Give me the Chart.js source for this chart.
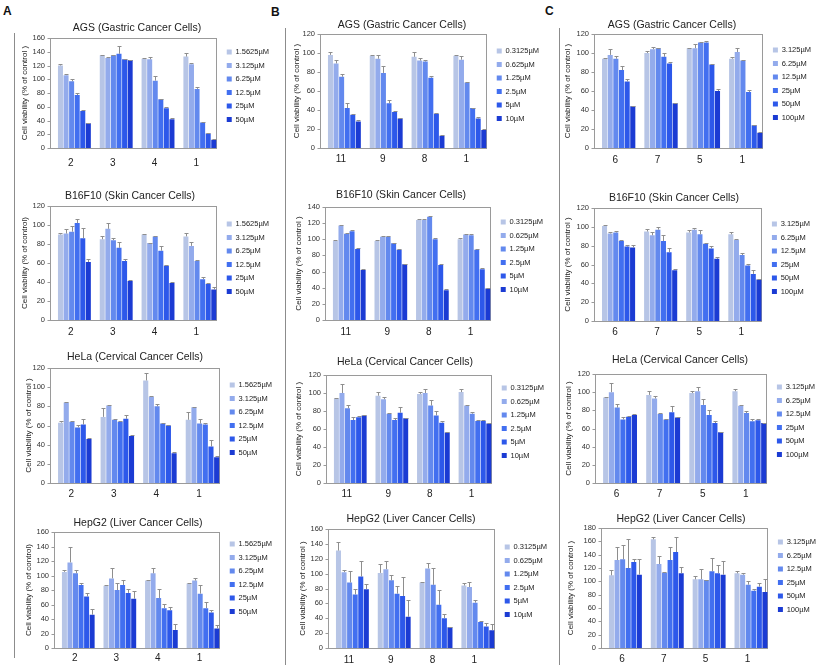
<!DOCTYPE html>
<html>
<head>
<meta charset="utf-8">
<script src="https://cdn.jsdelivr.net/npm/chart.js@4.4.1/dist/chart.umd.min.js"></script>
<style>
  html, body { margin: 0; padding: 0; background: #fff; width: 817px; height: 669px; overflow: hidden; position: relative; font-family: 'Liberation Sans', Arial, sans-serif; }
  canvas { position: absolute; }
  .tag { position: absolute; font-weight: bold; font-size: 12px; color: #111; }
  .sep { position: absolute; width: 1px; background: #8c8c8c; }
</style>
</head>
<body>
<div class="sep" style="left:14px;top:33px;height:625px"></div>
<div class="sep" style="left:285px;top:28px;height:637px"></div>
<div class="sep" style="left:559px;top:28px;height:637px"></div>
<div class="tag" style="left:3px;top:4px">A</div>
<div class="tag" style="left:271px;top:5px">B</div>
<div class="tag" style="left:545px;top:4px">C</div>

<script>
// ==========================================
// データ
// ==========================================

const concA = ['1.5625µM', '3.125µM', '6.25µM', '12.5µM', '25µM', '50µM'];
const concB = ['0.3125µM', '0.625µM', '1.25µM', '2.5µM', '5µM', '10µM'];
const concC = ['3.125µM', '6.25µM', '12.5µM', '25µM', '50µM', '100µM'];

const compA = ['2', '3', '4', '1'];
const compB = ['11', '9', '8', '1'];
const compC = ['6', '7', '5', '1'];

const cellLines = ['AGS (Gastric Cancer Cells)', 'B16F10 (Skin Cancer Cells)', 'HeLa (Cervical Cancer Cells)', 'HepG2 (Liver Cancer Cells)'];
const yTitle1 = 'Cell viability (% of control )';
const yTitle2 = 'Cell viability (% of control)';

const yMaxA = [160, 120, 120, 160];
const yMaxB = [120, 140, 120, 160];
const yMaxC = [120, 120, 120, 180];

// 各行 = 化合物, 各列 = 濃度
const agsA = [[120, 106, 97, 77, 54, 36], [135, 131, 135, 137, 129, 128], [130, 129, 98, 71, 58, 42], [133, 122, 86, 37, 21, 12]];
const agsA_err = [[2, 1, 4, 3, 2, 0.5], [1, 1, 0.5, 11, 0.5, 0.5], [1, 3, 7, 1, 1, 1], [5, 2, 3, 1, 0.5, 1]];
const b16A = [[90, 91, 93, 102, 86, 61], [85, 96, 84, 76, 62, 41], [90, 81, 88, 73, 57, 39], [88, 78, 62, 43, 38, 32]];
const b16A_err = [[2, 5, 6, 4, 11, 3], [3, 6, 2, 6, 2, 1], [1, 0.5, 0.5, 5, 0.5, 1], [4, 4, 1, 2, 0.5, 3]];
const helaA = [[63, 84, 64, 58, 61, 46], [69, 81, 66, 64, 67, 49], [107, 90, 80, 62, 60, 31], [66, 79, 62, 61, 38, 27]];
const helaA_err = [[2, 0.5, 0.5, 3, 6, 1], [9, 0.5, 0.5, 0.5, 4, 1], [8, 0.5, 2, 0.5, 0.5, 1], [8, 0.5, 5, 2, 7, 1]];
const hepA = [[105, 118, 103, 87, 71, 46], [86, 96, 80, 87, 76, 68], [93, 103, 69, 55, 52, 25], [89, 93, 75, 55, 49, 27]];
const hepA_err = [[2, 22, 4, 3, 5, 8], [1, 15, 9, 7, 6, 11], [1, 7, 12, 6, 5, 8], [1, 4, 12, 9, 3, 5]];

const agsB = [[98, 89, 75, 42, 35, 28], [97, 94, 79, 47, 38, 31], [96, 92, 91, 74, 36, 13], [97, 93, 69, 42, 31, 19]];
const agsB_err = [[3, 4, 3, 5, 1, 1], [0.5, 4, 7, 3, 0.5, 0.5], [5, 3, 2, 2, 1, 0.5], [1, 4, 0.5, 0.5, 2, 0.5]];
const b16B = [[98, 117, 107, 110, 88, 62], [98, 103, 103, 95, 87, 69], [124, 124, 128, 100, 68, 37], [100, 106, 105, 87, 63, 39]];
const b16B_err = [[1, 1, 1, 1, 1, 1], [1, 1, 1, 1, 1, 1], [1, 1, 1, 1, 1, 1], [1, 1, 1, 1, 1, 1]];
const helaB = [[94, 100, 83, 70, 73, 75], [97, 93, 77, 70, 78, 72], [99, 100, 86, 75, 67, 56], [101, 86, 77, 69, 69, 66]];
const helaB_err = [[1, 10, 4, 3, 1, 0.5], [4, 3, 0.5, 2, 7, 0.5], [2, 5, 6, 5, 2, 0.5], [3, 0.5, 2, 1, 0.5, 0.5]];
const hepB = [[131, 102, 88, 72, 96, 79], [101, 106, 91, 73, 70, 42], [88, 107, 85, 58, 40, 28], [84, 82, 61, 35, 29, 24]];
const hepB_err = [[12, 3, 16, 7, 21, 7], [12, 11, 7, 11, 25, 23], [0.5, 7, 23, 20, 6, 0.5], [4, 7, 4, 1, 4, 8]];

const agsC = [[94, 98, 94, 82, 70, 44], [100, 104, 105, 96, 89, 47], [105, 105, 111, 111, 88, 60], [94, 101, 92, 59, 24, 16]];
const agsC_err = [[0.5, 6, 3, 4, 3, 0.5], [2, 2, 0.5, 4, 2, 0.5], [0.5, 5, 1, 2, 0.5, 2], [2, 4, 0.5, 2, 0.5, 0.5]];
const b16C = [[101, 93, 94, 85, 79, 78], [95, 91, 97, 85, 73, 54], [94, 97, 92, 82, 77, 66], [92, 86, 70, 59, 50, 44]];
const b16C_err = [[0.5, 1, 2, 0.5, 2, 3], [3, 4, 3, 6, 5, 1], [3, 2, 5, 1, 3, 2], [3, 1, 2, 2, 4, 1]];
const helaC = [[94, 100, 83, 70, 73, 75], [97, 93, 76, 70, 78, 72], [99, 101, 86, 75, 66, 56], [101, 85, 77, 68, 69, 66]];
const helaC_err = [[0.5, 10, 4, 3, 0.5, 0.5], [4, 3, 1, 1, 7, 0.5], [2, 5, 6, 5, 2, 0.5], [3, 0.5, 2, 2, 1, 0.5]];
const hepC = [[109, 132, 133, 120, 129, 110], [163, 126, 113, 132, 144, 112], [103, 103, 102, 115, 112, 110], [112, 110, 95, 86, 92, 84]];
const hepC_err = [[8, 20, 21, 43, 4, 23], [3, 12, 0.5, 19, 22, 9], [5, 16, 0.5, 20, 12, 20], [4, 3, 6, 3, 5, 19]];

// ==========================================
// パネル構成（データの対応）
// ==========================================

const panels = [
  { vals: agsA, errs: agsA_err, conc: concA, comp: compA, ymax: yMaxA[0], title: cellLines[0], ytitle: yTitle1 },
  { vals: b16A, errs: b16A_err, conc: concA, comp: compA, ymax: yMaxA[1], title: cellLines[1], ytitle: yTitle2 },
  { vals: helaA, errs: helaA_err, conc: concA, comp: compA, ymax: yMaxA[2], title: cellLines[2], ytitle: yTitle1 },
  { vals: hepA, errs: hepA_err, conc: concA, comp: compA, ymax: yMaxA[3], title: cellLines[3], ytitle: yTitle2 },
  { vals: agsB, errs: agsB_err, conc: concB, comp: compB, ymax: yMaxB[0], title: cellLines[0], ytitle: yTitle1 },
  { vals: b16B, errs: b16B_err, conc: concB, comp: compB, ymax: yMaxB[1], title: cellLines[1], ytitle: yTitle1 },
  { vals: helaB, errs: helaB_err, conc: concB, comp: compB, ymax: yMaxB[2], title: cellLines[2], ytitle: yTitle1 },
  { vals: hepB, errs: hepB_err, conc: concB, comp: compB, ymax: yMaxB[3], title: cellLines[3], ytitle: yTitle1 },
  { vals: agsC, errs: agsC_err, conc: concC, comp: compC, ymax: yMaxC[0], title: cellLines[0], ytitle: yTitle1 },
  { vals: b16C, errs: b16C_err, conc: concC, comp: compC, ymax: yMaxC[1], title: cellLines[1], ytitle: yTitle1 },
  { vals: helaC, errs: helaC_err, conc: concC, comp: compC, ymax: yMaxC[2], title: cellLines[2], ytitle: yTitle1 },
  { vals: hepC, errs: hepC_err, conc: concC, comp: compC, ymax: yMaxC[3], title: cellLines[3], ytitle: yTitle1 }
];

// ==========================================
// レイアウト（ページ座標）
// ty: タイトル中心, pt/pb/pl/pr: プロット枠, xl: x ラベル中心,
// fy: 凡例1行目中心, ytx: y軸タイトル中心, tcx: タイトル中心x
// ==========================================

const frames = [
  { ty: 28,  pt: 38,  pb: 148, xl: 163, pl: 50,  pr: 217, fy: 52,  ytx: 25,  tcx: 137 },
  { ty: 196, pt: 206, pb: 320, xl: 332, pl: 50,  pr: 217, fy: 224, ytx: 25,  tcx: 130 },
  { ty: 357, pt: 368, pb: 483, xl: 494, pl: 50,  pr: 220, fy: 385, ytx: 29,  tcx: 135 },
  { ty: 523, pt: 532, pb: 648, xl: 658, pl: 54,  pr: 220, fy: 544, ytx: 29,  tcx: 138 },
  { ty: 25,  pt: 34,  pb: 148, xl: 159, pl: 320, pr: 487, fy: 51,  ytx: 297, tcx: 402 },
  { ty: 195, pt: 207, pb: 320, xl: 332, pl: 325, pr: 491, fy: 222, ytx: 299, tcx: 401 },
  { ty: 362, pt: 375, pb: 483, xl: 494, pl: 326, pr: 492, fy: 388, ytx: 299, tcx: 405 },
  { ty: 519, pt: 529, pb: 648, xl: 660, pl: 328, pr: 495, fy: 547, ytx: 303, tcx: 411 },
  { ty: 25,  pt: 34,  pb: 148, xl: 160, pl: 594, pr: 763, fy: 50,  ytx: 568, tcx: 672 },
  { ty: 198, pt: 208, pb: 321, xl: 332, pl: 594, pr: 762, fy: 224, ytx: 568, tcx: 674 },
  { ty: 360, pt: 374, pb: 483, xl: 494, pl: 595, pr: 767, fy: 387, ytx: 569, tcx: 680 },
  { ty: 519, pt: 528, pb: 648, xl: 659, pl: 601, pr: 768, fy: 542, ytx: 571, tcx: 681 }
];

const FONT = "'Liberation Sans', Arial, sans-serif";
const shades = ['#b7c5e6', '#93abec', '#6389ee', '#426ff0', '#2d58ea', '#1b3bd3'];
const SHIFT = 3.5;  // 棒グループは枠より少し右寄り

Chart.defaults.font.family = FONT;
Chart.defaults.color = '#222';

// 枠線・目盛り線・エラーバー
const decor = {
  id: 'decor',
  beforeDatasetsDraw(chart) {
    const { ctx, chartArea: a } = chart;
    const y = chart.scales.y;
    const left = Math.round(a.left - SHIFT) + 0.5;
    const right = Math.round(a.right - SHIFT) - 0.5;
    ctx.save();
    ctx.strokeStyle = '#9a9a9a';
    ctx.lineWidth = 1;
    ctx.strokeRect(left, Math.round(a.top) + 0.5, right - left, Math.round(a.bottom - a.top));
    ctx.beginPath();
    y.ticks.forEach(t => {
      const py = Math.round(y.getPixelForValue(t.value)) + 0.5;
      ctx.moveTo(left - 3, py);
      ctx.lineTo(left, py);
    });
    ctx.stroke();
    ctx.restore();
  },
  afterDatasetsDraw(chart) {
    const { ctx } = chart;
    const y = chart.scales.y;
    ctx.save();
    ctx.strokeStyle = '#8e8e8e';
    ctx.lineWidth = 1;
    chart.data.datasets.forEach((ds, j) => {
      chart.getDatasetMeta(j).data.forEach((bar, i) => {
        const top = Math.round(y.getPixelForValue(ds.data[i] + ds.errors[i])) + 0.5;
        const x = Math.round(bar.x) + 0.5;
        ctx.beginPath();
        ctx.moveTo(x, bar.y);
        ctx.lineTo(x, top);
        ctx.moveTo(x - 2, top);
        ctx.lineTo(x + 2, top);
        ctx.stroke();
      });
    });
    ctx.restore();
  }
};

const meas = document.createElement('canvas').getContext('2d');
meas.font = "7.5px " + FONT;

frames.forEach((f, k) => {
  const p = panels[k];
  const legW = 6 + 5 + 3.75 + Math.max(...p.conc.map(t => meas.measureText(t).width)) + 10;
  const R = f.pr + SHIFT + legW;
  const L = Math.round(2 * f.tcx - R);
  const W = Math.round(R - L);
  const T = Math.round(f.ty - 6.3);
  const xPad = f.xl - f.pb - 6;
  const H = Math.round(f.pb + xPad + 14 - T);

  const cv = document.createElement('canvas');
  cv.width = W;
  cv.height = H;
  cv.style.left = L + 'px';
  cv.style.top = T + 'px';
  document.body.appendChild(cv);

  new Chart(cv, {
    type: 'bar',
    data: {
      labels: p.comp,
      datasets: p.conc.map((c, j) => ({
        label: c,
        data: p.vals.map(g => g[j]),
        errors: p.errs.map(g => g[j]),
        backgroundColor: shades[j],
        borderWidth: 0
      }))
    },
    options: {
      responsive: false,
      animation: false,
      events: [],
      layout: { padding: 0 },
      plugins: {
        tooltip: { enabled: false },
        title: {
          display: true,
          text: p.title,
          font: { size: 10.5, weight: 'normal' },
          color: '#222',
          padding: { top: 0, bottom: f.pt - T - 12.6 }
        },
        legend: {
          position: 'right',
          align: 'start',
          fullSize: false,
          title: { display: true, text: ' ', font: { size: 1 }, padding: { top: 0, bottom: Math.max(0, f.fy - f.pt - 9.75 - 1.2) } },
          labels: {
            boxWidth: 5,
            boxHeight: 5,
            padding: 6,
            color: '#222',
            font: { size: 7.5 }
          }
        }
      },
      scales: {
        x: {
          grid: { display: false, drawTicks: false },
          border: { display: false },
          ticks: { font: { size: 10 }, color: '#222', padding: xPad, labelOffset: -SHIFT },
          afterFit: s => { s.height = T + H - f.pb; }
        },
        y: {
          min: 0,
          max: p.ymax,
          grid: { display: false, drawTicks: false },
          border: { display: false },
          ticks: { stepSize: 20, font: { size: 7.5 }, color: '#333', padding: 5 + SHIFT },
          title: {
            display: true,
            text: p.ytitle,
            font: { size: 8 },
            color: '#222',
            padding: { top: f.ytx - L - 4.8, bottom: 0 }
          },
          afterFit: s => { s.width = f.pl + SHIFT - L; }
        }
      }
    },
    plugins: [decor]
  });
});
</script>
</body>
</html>
